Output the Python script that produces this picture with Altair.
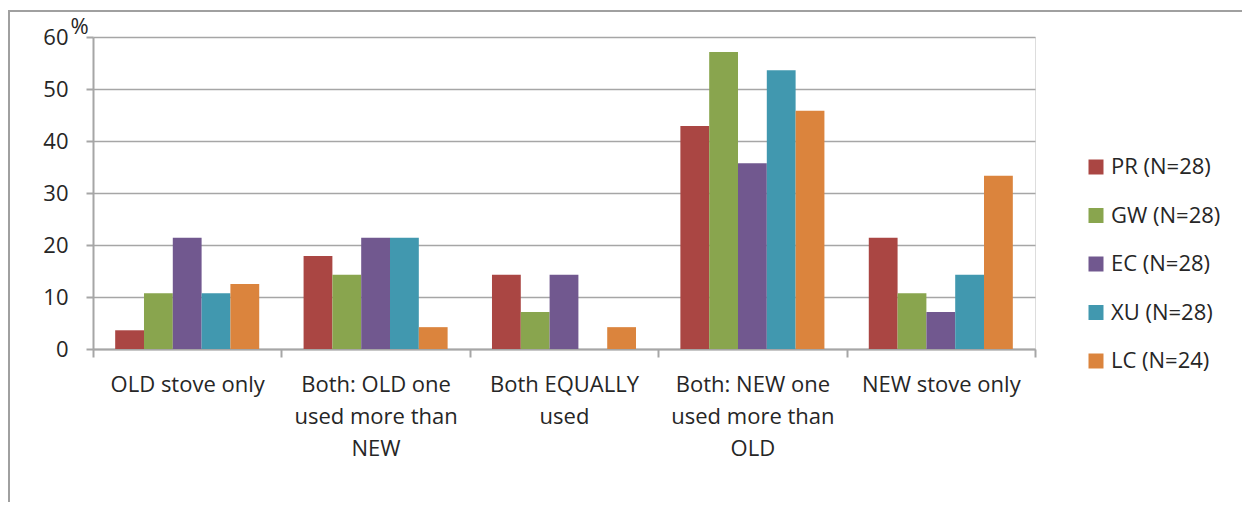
import json
import altair as alt
import pandas as pd

categories = [
    "OLD stove only",
    "Both: OLD one used more than NEW",
    "Both EQUALLY used",
    "Both: NEW one used more than OLD",
    "NEW stove only",
]
category_lines = [
    ["OLD stove only"],
    ["Both: OLD one", "used more than", "NEW"],
    ["Both EQUALLY", "used"],
    ["Both: NEW one", "used more than", "OLD"],
    ["NEW stove only"],
]
series = ["PR (N=28)", "GW (N=28)", "EC (N=28)", "XU (N=28)", "LC (N=24)"]
colors = ["#AA4643", "#89A54E", "#71588F", "#4198AF", "#DB843D"]

pr = [3.6, 17.9, 14.3, 42.9, 21.4]
gw = [10.7, 14.3, 7.1, 57.1, 10.7]
ec = [21.4, 21.4, 14.3, 35.7, 7.1]
xu = [10.7, 21.4, 0.0, 53.6, 14.3]
lc = [12.5, 4.2, 4.2, 45.8, 33.3]
values = [pr, gw, ec, xu, lc]

rows = []
for s, vals in zip(series, values):
    for c, v in zip(categories, vals):
        rows.append({"category": c, "series": s, "value": v})
df = pd.DataFrame(rows)

label_map = json.dumps(dict(zip(categories, category_lines)))

W, H = 942, 312
PAD_L, PAD_T, PAD_R, PAD_B = 85, 29, 207, 153
FONT = "Open Sans"
TXT = "#262626"
GRID = "#a6a6a6"

bars = alt.Chart(df).mark_bar().encode(
    x=alt.X(
        "category:N",
        sort=categories,
        scale=alt.Scale(paddingInner=0, paddingOuter=0),
        axis=alt.Axis(
            title=None,
            labelAngle=0,
            labelExpr=f"{label_map}[datum.label]",
            labelFontSize=22,
            labelFont=FONT,
            labelColor=TXT,
            labelLineHeight=32,
            labelBaseline="top",
            labelPadding=17,
            tickBand="extent",
            tickSize=8,
            tickColor=GRID,
            tickWidth=2,
            domainColor=GRID,
            domainWidth=2,
            grid=False,
            labelLimit=0,
        ),
    ),
    xOffset=alt.XOffset("series:N", sort=series, scale=alt.Scale(paddingInner=0, paddingOuter=0.77)),
    y=alt.Y(
        "value:Q",
        scale=alt.Scale(domain=[0, 60], nice=False),
        axis=alt.Axis(
            values=[0, 10, 20, 30, 40, 50, 60],
            title="%",
            titleAngle=0,
            titleX=-14,
            titleY=1,
            titleAlign="center",
            titleBaseline="bottom",
            titleFontSize=22,
            titleFont=FONT,
            titleFontWeight="normal",
            titleColor=TXT,
            labelFontSize=22,
            labelFont=FONT,
            labelColor=TXT,
            labelPadding=18,
            labelBaseline="middle",
            tickSize=7,
            tickColor=GRID,
            tickWidth=2,
            domainColor=GRID,
            domainWidth=2,
            gridColor=GRID,
            gridWidth=1.5,
        ),
    ),
    color=alt.Color(
        "series:N",
        sort=series,
        scale=alt.Scale(domain=series, range=colors),
        legend=alt.Legend(
            title=None,
            orient="none",
            legendX=992,
            legendY=119,
            symbolType="square",
            symbolSize=225,
            symbolStrokeWidth=0,
            labelFontSize=22,
            labelFont=FONT,
            labelColor=TXT,
            labelOffset=4,
            rowPadding=26.5,
            padding=0,
        ),
    ),
)

frame_df = pd.DataFrame({"k": [0]})
frame = alt.Chart(frame_df).mark_rect(
    fill=None, stroke="#a0a0a0", strokeWidth=2, clip=False
).encode(
    x=alt.value(-84),
    x2=alt.value(W + PAD_R + 20),
    y=alt.value(-26),
    y2=alt.value(H + PAD_B + 20),
)

chart = alt.layer(bars, frame).properties(
    width=W,
    height=H,
    autosize=alt.AutoSizeParams(type="none"),
    padding={"left": PAD_L, "top": PAD_T, "right": PAD_R, "bottom": PAD_B},
).configure_view(stroke=None).configure(background="white")

chart.save("out.html", embed_options={"renderer": "svg", "actions": False})
